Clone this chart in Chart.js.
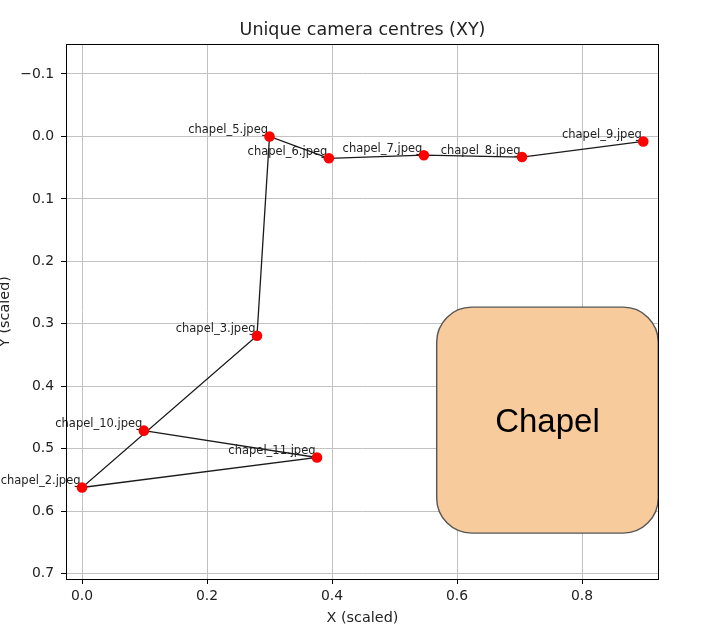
<!DOCTYPE html>
<html>
<head>
<meta charset="utf-8">
<title>Unique camera centres (XY)</title>
<script src="https://cdn.jsdelivr.net/npm/chart.js@4.4.1/dist/chart.umd.min.js"></script>
<style>
  html, body { margin: 0; padding: 0; background: #fff; }
  canvas { display: block; }
</style>
</head>
<body>
<canvas id="stage" width="703" height="634"></canvas>
<script>
// camera centres, in the (sorted) order the path was drawn
var names = ['chapel_10.jpeg', 'chapel_11.jpeg', 'chapel_2.jpeg', 'chapel_3.jpeg', 'chapel_5.jpeg',
             'chapel_6.jpeg', 'chapel_7.jpeg', 'chapel_8.jpeg', 'chapel_9.jpeg'];
var xs = [0.099, 0.376, 0.0, 0.280, 0.300, 0.395, 0.547, 0.704, 0.898];
var ys = [0.471, 0.514, 0.562, 0.319, 0.0, 0.035, 0.030, 0.033, 0.008];

var xTicks = [0, 0.2, 0.4, 0.6, 0.8];
var yTicks = [-0.1, 0, 0.1, 0.2, 0.3, 0.4, 0.5, 0.6, 0.7];
var xRange = [-0.0256, 0.9232];
var yRange = [-0.148, 0.7085];

// the "Chapel" block, in data units
var chapelBox = { x0: 0.5675, x1: 0.922, y0: 0.2733, y1: 0.635, text: 'Chapel' };

var FONT = 'DejaVu Sans';

function tickLabel(v) {
  return Number(v).toFixed(1).replace('-', '\u2212');
}

function roundRect(ctx, x, y, w, h, r) {
  ctx.beginPath();
  ctx.moveTo(x + r, y);
  ctx.arcTo(x + w, y, x + w, y + h, r);
  ctx.arcTo(x + w, y + h, x, y + h, r);
  ctx.arcTo(x, y + h, x, y, r);
  ctx.arcTo(x, y, x + w, y, r);
  ctx.closePath();
}

var decorations = {
  id: 'decorations',
  beforeDatasetsDraw: function(chart) {
    var ctx = chart.ctx;
    var sx = chart.scales.x, sy = chart.scales.y;

    // chapel block
    var bx0 = sx.getPixelForValue(chapelBox.x0), bx1 = sx.getPixelForValue(chapelBox.x1);
    var by0 = sy.getPixelForValue(chapelBox.y0), by1 = sy.getPixelForValue(chapelBox.y1);
    ctx.save();
    roundRect(ctx, bx0, by0, bx1 - bx0, by1 - by0, 35);
    ctx.fillStyle = '#f8cb9c';
    ctx.fill();
    ctx.lineWidth = 1.4;
    ctx.strokeStyle = '#555555';
    ctx.stroke();
    ctx.fillStyle = '#000';
    ctx.font = '33px "Liberation Sans", Arial, sans-serif';
    ctx.textAlign = 'center';
    ctx.textBaseline = 'alphabetic';
    ctx.fillText(chapelBox.text, (bx0 + bx1) / 2, (by0 + by1) / 2 + 12);
    ctx.restore();

    // point names
    ctx.save();
    ctx.font = '11.5px "' + FONT + '"';
    ctx.fillStyle = '#222';
    ctx.textAlign = 'right';
    ctx.textBaseline = 'alphabetic';
    names.forEach(function(n, i) {
      ctx.fillText(n, sx.getPixelForValue(xs[i]) - 1.5, sy.getPixelForValue(ys[i]) - 3.5);
    });
    ctx.restore();
  },
  afterDatasetsDraw: function(chart) {
    var a = chart.chartArea, ctx = chart.ctx;
    ctx.save();
    ctx.strokeStyle = '#000';
    ctx.lineWidth = 1;
    ctx.strokeRect(Math.round(a.left) + 0.5, Math.round(a.top) + 0.5,
                   Math.round(a.right - a.left) - 1, Math.round(a.bottom - a.top));
    ctx.restore();
  }
};

var points = xs.map(function(x, i) { return { x: x, y: ys[i] }; });

var canvas = document.getElementById('stage');
var chart = new Chart(canvas, {
  type: 'scatter',
  data: {
    datasets: [{
      data: points,
      showLine: true,
      borderColor: '#1a1a1a',
      borderWidth: 1.3,
      pointRadius: 5.3,
      pointHoverRadius: 5.3,
      pointBackgroundColor: '#ff0000',
      pointBorderWidth: 0,
      tension: 0
    }]
  },
  options: {
    responsive: false,
    animation: false,
    events: [],
    layout: { padding: { left: 0, right: 44, top: 0, bottom: 0 } },
    plugins: {
      legend: { display: false },
      tooltip: { enabled: false },
      title: {
        display: true,
        fullSize: false,
        text: 'Unique camera centres (XY)',
        color: '#222',
        font: { family: FONT, size: 17.5, weight: 'normal', lineHeight: 1.2 },
        padding: { top: 20.3, bottom: 2.7 }
      }
    },
    scales: {
      x: {
        type: 'linear',
        min: xRange[0],
        max: xRange[1],
        afterBuildTicks: function(s) { s.ticks = xTicks.map(function(v) { return { value: v }; }); },
        afterFit: function(s) { s.height = 55; },
        grid: { color: '#c2c2c2', lineWidth: 1, tickColor: '#000', tickLength: 5 },
        border: { display: false },
        ticks: {
          color: '#222',
          padding: 4,
          autoSkip: false,
          maxRotation: 0,
          font: { family: FONT, size: 13.9 },
          callback: tickLabel
        },
        title: {
          display: true,
          text: 'X (scaled)',
          color: '#222',
          font: { family: FONT, size: 14.4, lineHeight: 1.2 },
          padding: { top: 0, bottom: 7 }
        }
      },
      y: {
        type: 'linear',
        reverse: true,
        min: yRange[0],
        max: yRange[1],
        afterBuildTicks: function(s) { s.ticks = yTicks.map(function(v) { return { value: v }; }); },
        afterFit: function(s) { s.width = 66; },
        grid: { color: '#c2c2c2', lineWidth: 1, tickColor: '#000', tickLength: 5 },
        border: { display: false },
        ticks: {
          color: '#222',
          padding: 7,
          autoSkip: false,
          font: { family: FONT, size: 13.9 },
          callback: tickLabel
        },
        title: {
          display: true,
          text: 'Y (scaled)',
          color: '#222',
          font: { family: FONT, size: 14.4, lineHeight: 0.8 },
          padding: { top: 0, bottom: 0 }
        }
      }
    }
  },
  plugins: [decorations]
});
</script>
</body>
</html>
